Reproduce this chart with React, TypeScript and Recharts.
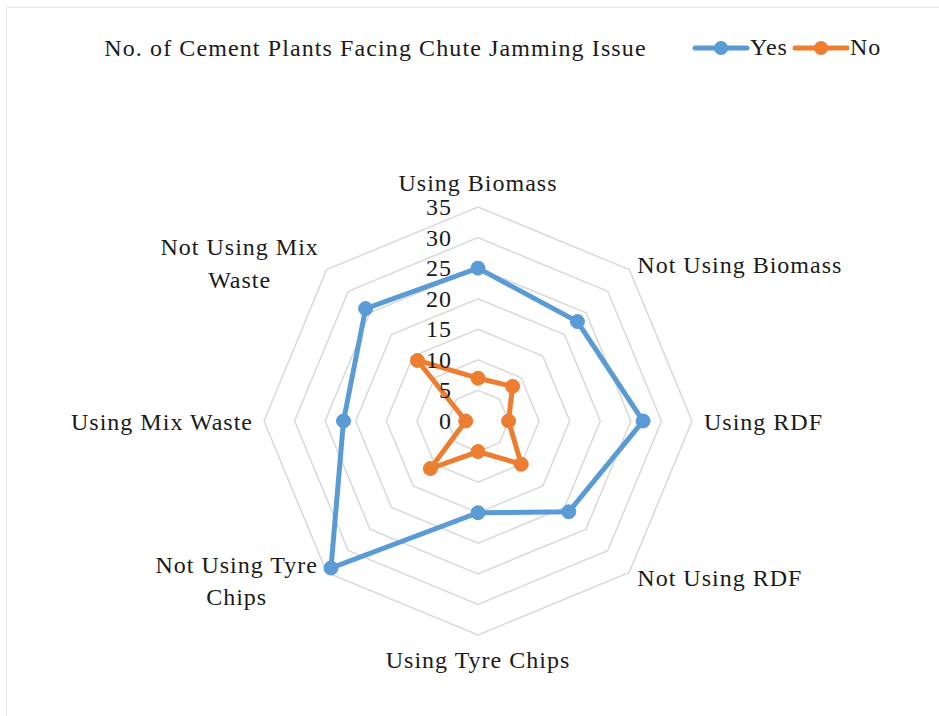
import { RadarChart, Radar, PolarGrid, PolarAngleAxis, PolarRadiusAxis, Legend } from 'recharts';

const categories = [
  'Using Biomass',
  'Not Using Biomass',
  'Using RDF',
  'Not Using RDF',
  'Using Tyre Chips',
  'Not Using Tyre Chips',
  'Using Mix Waste',
  'Not Using Mix Waste',
];
const yesValues = [25, 23, 27, 21, 15, 34, 22, 26];
const noValues = [7, 8, 5, 10, 5, 11, 2, 14];
const radiusTicks = [0, 5, 10, 15, 20, 25, 30, 35];

const data = categories.map((name, i) => ({ name, yes: yesValues[i], no: noValues[i] }));

const CX = 478;
const CY = 421;
const R = 214;
const FONT = "'Times New Roman', Tinos, 'Liberation Serif', 'DejaVu Serif', 'Noto Serif', Times, serif";
const BLUE = '#5B9BD5';
const ORANGE = '#ED7D31';

// label placement relative to the end of each spoke
const LABEL_POS: { dx: number; dy: number[]; anchor: 'start' | 'middle' | 'end'; lines: string[] }[] = [
  { dx: 0, dy: [-24], anchor: 'middle', lines: ['Using Biomass'] },
  { dx: 8, dy: [-5], anchor: 'start', lines: ['Not Using Biomass'] },
  { dx: 12, dy: [1], anchor: 'start', lines: ['Using RDF'] },
  { dx: 8, dy: [6], anchor: 'start', lines: ['Not Using RDF'] },
  { dx: 0, dy: [25], anchor: 'middle', lines: ['Using Tyre Chips'] },
  { dx: -90, dy: [-7, 25], anchor: 'middle', lines: ['Not Using Tyre', 'Chips'] },
  { dx: -11, dy: [1], anchor: 'end', lines: ['Using Mix Waste'] },
  { dx: -87, dy: [-23, 10], anchor: 'middle', lines: ['Not Using Mix', 'Waste'] },
];

function AngleTick(props: any) {
  const i = props.index as number;
  const pos = LABEL_POS[i];
  const a = ((90 - i * 45) * Math.PI) / 180;
  const ex = CX + R * Math.cos(a);
  const ey = CY - R * Math.sin(a);
  return (
    <g>
      {pos.lines.map((line, k) => (
        <text
          key={k}
          x={ex + pos.dx}
          y={ey + pos.dy[k]}
          textAnchor={pos.anchor}
          dominantBaseline="central"
          style={{ fontFamily: FONT, fontSize: 24, letterSpacing: 1 }}
          fill="#1a1a1a"
        >
          {line}
        </text>
      ))}
    </g>
  );
}

function RadiusTick(props: any) {
  return (
    <text
      x={props.x - 26}
      y={props.y}
      textAnchor="end"
      dominantBaseline="central"
      style={{ fontFamily: FONT, fontSize: 24, letterSpacing: 1 }}
      fill="#1a1a1a"
    >
      {props.payload.value}
    </text>
  );
}

const makeDot = (color: string) => (props: any) => (
  <circle key={`${color}-${props.index}`} cx={props.cx} cy={props.cy} r={7} fill={color} stroke={color} strokeWidth={1} />
);

function LegendContent() {
  const item = (color: string, label: string) => (
    <div style={{ display: 'flex', alignItems: 'center' }}>
      <svg width={58} height={16}>
        <line x1={3} y1={8} x2={55} y2={8} stroke={color} strokeWidth={5} strokeLinecap="round" />
        <circle cx={29} cy={8} r={7} fill={color} />
      </svg>
      <span style={{ fontFamily: FONT, fontSize: 24, letterSpacing: 1, color: '#1a1a1a', marginRight: 4 }}>
        {label}
      </span>
    </div>
  );
  return (
    <div style={{ display: 'flex', alignItems: 'center' }}>
      {item(BLUE, 'Yes')}
      {item(ORANGE, 'No')}
    </div>
  );
}

export default function App() {
  return (
    <div
      style={{
        position: 'fixed',
        left: 0,
        top: 0,
        width: 939,
        height: 716,
        background: '#fff',
      }}
    >
      <div
        style={{
          position: 'absolute',
          left: 6,
          top: 7,
          right: 0,
          bottom: 0,
          borderTop: '1px solid #e8e8e8',
          borderLeft: '1px solid #e8e8e8',
        }}
      />
      <div
        style={{
          position: 'absolute',
          left: 0,
          width: 751,
          top: 32,
          textAlign: 'center',
          fontFamily: FONT,
          fontSize: 24,
          letterSpacing: 1.1,
          color: '#1a1a1a',
          lineHeight: '32px',
        }}
      >
        No. of Cement Plants Facing Chute Jamming Issue
      </div>
      <div style={{ position: 'absolute', top: 0, left: 0 }}>
        <RadarChart width={939} height={716} data={data} cx={CX} cy={CY} outerRadius={R}>
          <PolarGrid gridType="polygon" radialLines={false} stroke="#d9d9d9" strokeWidth={1.5} />
          <PolarAngleAxis dataKey="name" tick={AngleTick} tickLine={false} axisLine={false} />
          <PolarRadiusAxis
            angle={90}
            domain={[0, 35]}
            ticks={radiusTicks}
            type="number"
            axisLine={false}
            tickLine={false}
            tick={RadiusTick}
          />
          <Radar
            name="Yes"
            dataKey="yes"
            stroke={BLUE}
            strokeWidth={5}
            fill="none"
            fillOpacity={0}
            dot={makeDot(BLUE)}
            isAnimationActive={false}
          />
          <Radar
            name="No"
            dataKey="no"
            stroke={ORANGE}
            strokeWidth={5}
            fill="none"
            fillOpacity={0}
            dot={makeDot(ORANGE)}
            isAnimationActive={false}
          />
          <Legend
            layout="horizontal"
            verticalAlign="top"
            align="left"
            wrapperStyle={{ top: 34, left: 692, width: 240 }}
            content={LegendContent}
          />
        </RadarChart>
      </div>
    </div>
  );
}
